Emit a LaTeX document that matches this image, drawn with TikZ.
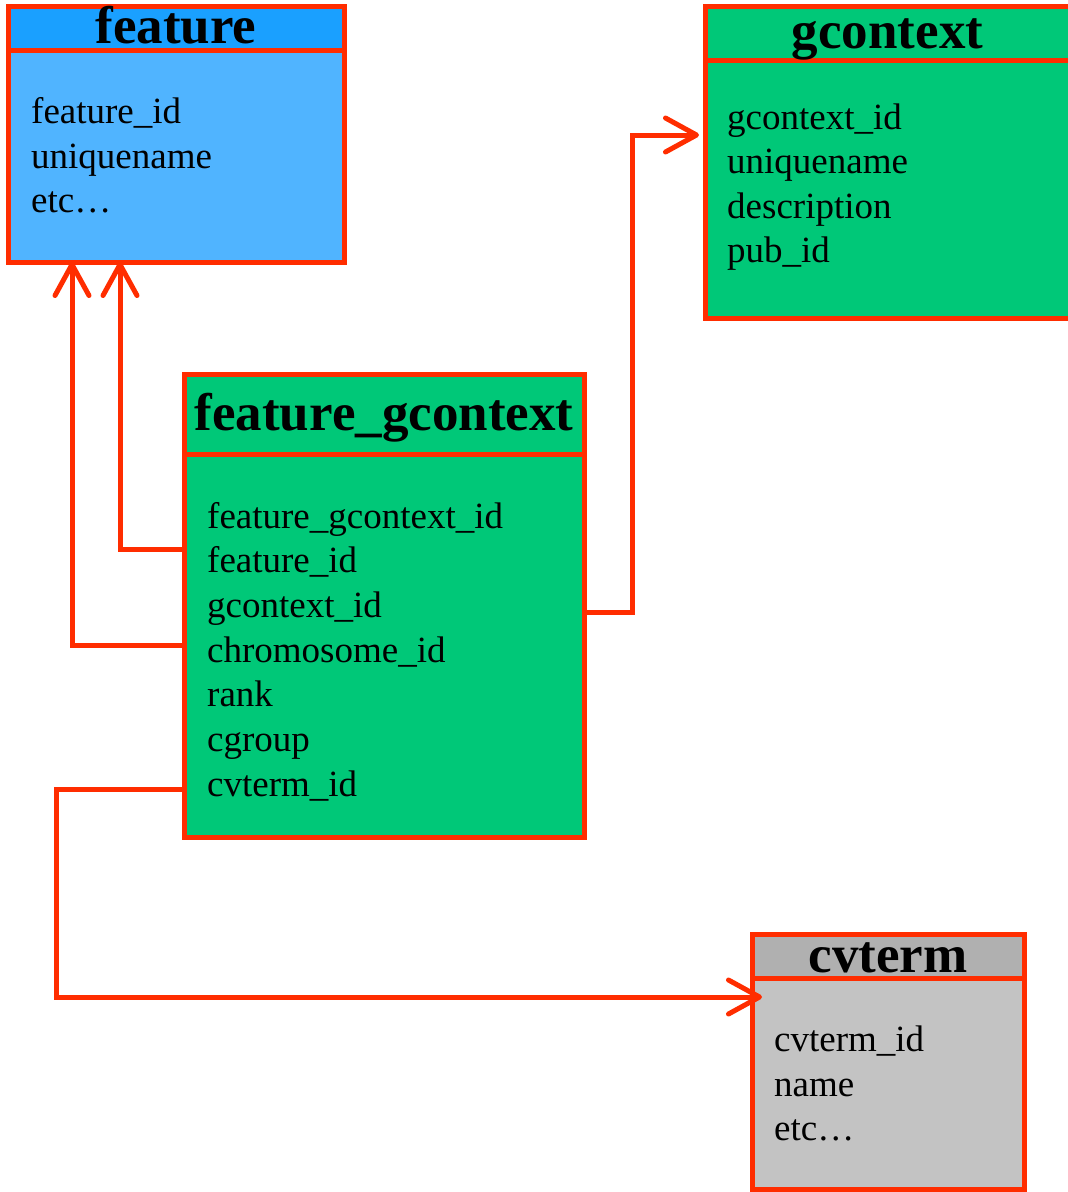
\documentclass[tikz,border=0pt]{standalone}
\usepackage{fontspec}
\setmainfont{Liberation Serif}
\usetikzlibrary{arrows.meta,calc}
\definecolor{linkred}{HTML}{FF2D00}
\definecolor{bluehead}{HTML}{1AA0FF}
\definecolor{bluebody}{HTML}{50B4FF}
\definecolor{tablegreen}{HTML}{00C878}
\definecolor{grayhead}{HTML}{B0B0B0}
\definecolor{graybody}{HTML}{C3C3C3}
\tikzset{
  tablebox/.style={draw=linkred, line width=5pt, inner sep=0pt, outer sep=0pt,
    anchor=north west, rectangle},
  tabletitle/.style={anchor=base, inner sep=0pt, font=\fontsize{53}{60}\selectfont\bfseries},
  field/.style={anchor=base west, inner sep=0pt, font=\fontsize{37}{44}\selectfont},
  link/.style={draw=linkred, line width=5pt,
    -{Straight Barb[length=31pt,width=34pt,round]}},
}
\begin{document}
\begin{tikzpicture}[x=1pt,y=-1pt]
\path[use as bounding box, clip] (0,0) rectangle (1068,1192);

% feature table
\node[tablebox, fill=bluebody, minimum width=336pt, minimum height=212pt] (featbody) at (8,50) {};
\node[tablebox, fill=bluehead, minimum width=336pt, minimum height=44pt] (feathead) at (8,6) {};
\node[tabletitle] (feattitle) at (176,43.5) {feature};
\node[field] (featf1) at (31,123.7) {feature\_id};
\node[field] (featf2) at (31,168) {uniquename};
\node[field] (featf3) at (31,212) {etc\dots};

% gcontext table
\node[tablebox, fill=tablegreen, minimum width=380pt, minimum height=258pt] (gctbody) at (705,60) {};
\node[tablebox, fill=tablegreen, minimum width=380pt, minimum height=54pt] (gcthead) at (705,6) {};
\node[tabletitle] (gcttitle) at (887.5,48.5) {gcontext};
\node[field] (gctf1) at (727,129.3) {gcontext\_id};
\node[field] (gctf2) at (727,173.5) {uniquename};
\node[field] (gctf3) at (727,218) {description};
\node[field] (gctf4) at (727,262.5) {pub\_id};

% feature_gcontext table
\node[tablebox, fill=tablegreen, minimum width=400pt, minimum height=382.5pt] (fgbody) at (184,454.5) {};
\node[tablebox, fill=tablegreen, minimum width=400pt, minimum height=80pt] (fghead) at (184,374.5) {};
\node[tabletitle] (fgtitle) at (384,430.5) {feature\_gcontext};
\node[field] (fgf1) at (207,528) {feature\_gcontext\_id};
\node[field] (fgf2) at (207,572.5) {feature\_id};
\node[field] (fgf3) at (207,617) {gcontext\_id};
\node[field] (fgf4) at (207,662) {chromosome\_id};
\node[field] (fgf5) at (207,706.5) {rank};
\node[field] (fgf6) at (207,751) {cgroup};
\node[field] (fgf7) at (207,796) {cvterm\_id};

% cvterm table
\node[tablebox, fill=graybody, minimum width=272pt, minimum height=211.5pt] (cvbody) at (752,978) {};
\node[tablebox, fill=grayhead, minimum width=272pt, minimum height=43.5pt] (cvhead) at (752,934.5) {};
\node[tabletitle] (cvtitle) at (888,972) {cvterm};
\node[field] (cvf1) at (774,1051) {cvterm\_id};
\node[field] (cvf2) at (774,1096) {name};
\node[field] (cvf3) at (774,1140) {etc\dots};

% foreign key links
\coordinate (fkfeatA) at ([yshift=-94.5pt]fgbody.north west);
\coordinate (fkgct) at ([yshift=33pt]fgbody.east);
\coordinate (fkcv) at ([yshift=-144pt]fgbody.west);
\coordinate (gctbend) at ($(gctbody.north west)+(-73,75)$);
\coordinate (gcttip) at ($(gctbody.north west)+(-6,75)$);
\coordinate (cvtip) at ($(cvbody.north west)+(10,19)$);

\draw[link] (fkfeatA) -| ([xshift=112pt]featbody.south west);
\draw[link] (fgbody.west) -| ([xshift=64pt]featbody.south west);
\draw[link] (fkgct) -| (gctbend) -- (gcttip);
\draw[link] (fkcv) -- ++(-128,0) |- (cvtip);
\end{tikzpicture}
\end{document}
